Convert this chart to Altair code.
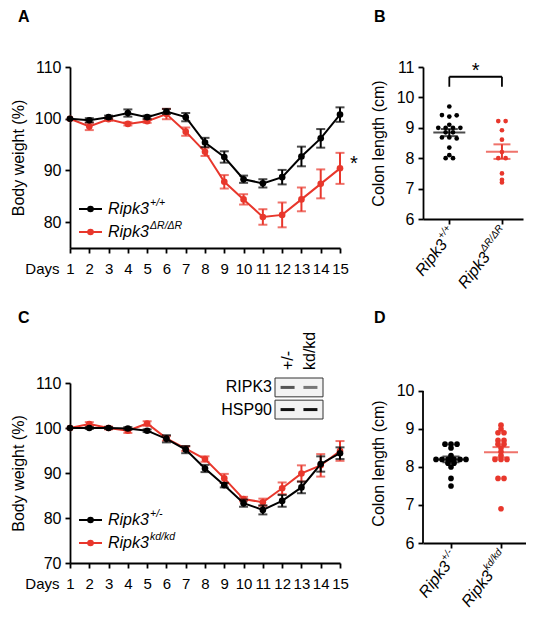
import altair as alt
import pandas as pd

FONT = "Liberation Sans"
RED = "#e8372c"
BLACK = "#000000"

# ---------------- data ----------------
days = list(range(1, 16))

# Panel A: body weight (%), mean and SEM
a_wt_mean = [100.0, 99.7, 100.3, 101.1, 100.3, 101.4, 100.3, 95.4, 92.6, 88.3, 87.5, 88.7, 92.7, 96.2, 100.8]
a_wt_sem = [0.0, 0.4, 0.3, 0.7, 0.3, 0.5, 0.8, 0.9, 1.1, 0.7, 0.8, 1.4, 1.9, 1.8, 1.4]
a_dr_mean = [100.0, 98.5, 99.9, 99.0, 99.5, 100.9, 97.5, 93.6, 87.8, 84.4, 81.0, 81.4, 84.4, 87.4, 90.4]
a_dr_sem = [0.0, 0.7, 0.3, 0.3, 0.3, 1.0, 0.8, 0.8, 1.3, 1.0, 1.5, 2.4, 2.3, 2.8, 3.0]

# Panel C: body weight (%), mean and SEM
c_het_mean = [100.0, 100.0, 100.0, 99.9, 99.4, 97.6, 95.2, 91.0, 87.3, 83.3, 81.8, 83.8, 86.8, 92.0, 94.4]
c_het_sem = [0.0, 0.2, 0.2, 0.3, 0.3, 0.8, 0.8, 0.8, 0.5, 0.8, 1.0, 1.3, 1.3, 1.7, 1.3]
c_kd_mean = [100.0, 100.9, 100.0, 99.4, 101.0, 97.7, 95.4, 93.1, 88.8, 84.2, 83.5, 86.6, 89.9, 91.7, 94.9]
c_kd_sem = [0.0, 0.4, 0.3, 0.5, 0.5, 0.5, 0.5, 0.6, 1.0, 0.5, 0.8, 1.3, 1.8, 2.5, 2.2]

# Panel B: colon length (cm)
b_wt = [9.7, 9.42, 9.37, 9.41, 9.1, 9.0, 9.0, 9.0, 9.0, 8.85, 8.85, 8.68, 8.68, 8.65, 8.35, 8.1, 8.0, 8.0]
b_dr = [9.22, 9.22, 8.92, 8.61, 8.2, 8.0, 8.0, 7.5, 7.2, 7.29]

# Panel D: colon length (cm)
d_het = [8.6, 8.6, 8.6, 8.5, 8.3, 8.2, 8.2, 8.2, 8.2, 8.2, 8.2, 8.1, 8.1, 8.0, 7.7, 7.5]
d_kd = [9.1, 9.0, 8.9, 8.9, 8.7, 8.7, 8.6, 8.6, 8.5, 8.4, 8.3, 8.2, 8.2, 8.2, 7.7, 7.7, 6.9]

# Labels
genotype_base = "Ripk3"
a_sups = ["+/+", "\u0394R/\u0394R"]
c_sups = ["+/-", "kd/kd"]
panel_letters = ["A", "B", "C", "D"]

# Blot inset (panel C)
blot_lanes = ["+/-", "kd/kd"]
blot_proteins = ["RIPK3", "HSP90"]
blot_intensity = {"RIPK3": [0.7, 0.55], "HSP90": [1.0, 1.0]}

# Significance annotations
a_star_day, a_star_val = [15], [91.2]
b_bracket = {"x0": [0], "x1": [1], "xm": [0.5], "yb": [10.68], "lo": [10.35], "s": ["*"]}


# ---------------- helpers ----------------
def x_days(field="day"):
    return alt.X(
        f"{field}:Q",
        scale=alt.Scale(domain=[1, 15], nice=False, zero=False),
        axis=alt.Axis(
            values=days, title="Days", titleX=-11, titleY=25, titleAlign="right",
            titleAngle=0, titleBaseline="alphabetic", titleFontSize=15,
            labelBaseline="alphabetic", labelPadding=20, labelOverlap=False,
            labelFlush=False, labelFontSize=15, labelBound=False,
        ),
    )


def y_weight(field, dom, vals):
    return alt.Y(
        f"{field}:Q",
        scale=alt.Scale(domain=dom, nice=False, zero=False),
        axis=alt.Axis(values=vals, title="Body weight (%)", titlePadding=8),
    )


def letter_layer(letter, dx, dy):
    return alt.Chart(pd.DataFrame({"t": [letter]})).mark_text(
        align="left", baseline="alphabetic", fontSize=16, fontWeight="bold"
    ).encode(x=alt.value(dx), y=alt.value(dy), text="t:N")


def series_layers(mean, sem, color, dom, vals):
    df = pd.DataFrame({"day": days, "mean": mean, "sem": sem})
    base = alt.Chart(df).transform_calculate(
        lo="datum.mean - datum.sem", hi="datum.mean + datum.sem"
    )
    withbar = base.transform_filter("datum.sem > 0")
    line = base.mark_line(color=color, strokeWidth=2).encode(x=x_days(), y=y_weight("mean", dom, vals))
    bar = withbar.mark_rule(color=color, strokeWidth=2).encode(
        x=x_days(), y=y_weight("lo", dom, vals), y2="hi:Q")
    cap_lo = withbar.mark_tick(color=color, orient="horizontal", size=9, thickness=2).encode(
        x=x_days(), y=y_weight("lo", dom, vals))
    cap_hi = withbar.mark_tick(color=color, orient="horizontal", size=9, thickness=2).encode(
        x=x_days(), y=y_weight("hi", dom, vals))
    pts = base.mark_circle(color=color, size=44, opacity=1).encode(
        x=x_days(), y=y_weight("mean", dom, vals))
    return [line, bar, cap_lo, cap_hi, pts]


def legend_layers(sups, colors, ys):
    layers = []
    for sup, col, yy in zip(sups, colors, ys):
        c = alt.Chart(pd.DataFrame({"lab": [genotype_base], "sup": [sup]}))
        layers += [
            c.mark_rule(color=col, strokeWidth=2).encode(
                x=alt.value(9), x2=alt.value(32), y=alt.value(yy)),
            c.mark_circle(color=col, size=44, opacity=1).encode(
                x=alt.value(20.5), y=alt.value(yy)),
            c.mark_text(align="left", baseline="middle", fontSize=16, fontStyle="italic").encode(
                x=alt.value(38), y=alt.value(yy), text="lab:N"),
            c.mark_text(align="left", baseline="middle", fontSize=10.5, fontStyle="italic").encode(
                x=alt.value(80), y=alt.value(yy - 6), text="sup:N"),
        ]
    return layers


def colon_layers(v1, v2, ydom, yvals, h, xdom, binw, step, dot, meanw, capw, sups, supw, show_domain=True):
    xs = alt.Scale(domain=xdom, nice=False, zero=False)
    xaxis = alt.Axis(values=[0, 1], labels=False, title=None, labelFlush=False)
    ys = alt.Scale(domain=ydom, nice=False, zero=False)
    yaxis = alt.Axis(values=yvals, title="Colon length (cm)", titlePadding=10, domain=show_domain)
    col = alt.Color("idx:N", scale=alt.Scale(domain=[0, 1], range=[BLACK, RED]), legend=None)

    def X(f):
        return alt.X(f"{f}:Q", scale=xs, axis=xaxis)

    def Y(f):
        return alt.Y(f"{f}:Q", scale=ys, axis=yaxis)

    df = pd.DataFrame({"v": v1 + v2, "idx": [0] * len(v1) + [1] * len(v2)})
    base = alt.Chart(df)
    pts = (
        base.transform_calculate(b=f"round(datum.v / {binw})")
        .transform_window(rank="row_number()", n="count()", groupby=["idx", "b"], frame=[None, None])
        .transform_calculate(xp=f"datum.idx + (datum.rank - (datum.n + 1) / 2) * {step}")
        .mark_circle(size=dot, opacity=1)
        .encode(x=X("xp"), y=Y("v"), color=col)
    )
    summ = base.transform_aggregate(m="mean(v)", se="stderr(v)", groupby=["idx"]).transform_calculate(
        lo="datum.m - datum.se", hi="datum.m + datum.se")
    mean_tick = summ.mark_tick(orient="horizontal", size=meanw, thickness=2).encode(
        x=X("idx"), y=Y("m"), color=col)
    err = summ.mark_rule(strokeWidth=2).encode(x=X("idx"), y=Y("lo"), y2="hi:Q", color=col)
    cap_lo = summ.mark_tick(orient="horizontal", size=capw, thickness=2).encode(
        x=X("idx"), y=Y("lo"), color=col)
    cap_hi = summ.mark_tick(orient="horizontal", size=capw, thickness=2).encode(
        x=X("idx"), y=Y("hi"), color=col)
    layers = [pts, err, cap_lo, cap_hi, mean_tick]

    # rotated category labels with superscripts
    for i, (sup, w) in enumerate(zip(sups, supw)):
        c = alt.Chart(pd.DataFrame({"i": [i], "lab": [genotype_base], "sup": [sup]}))
        layers.append(c.mark_text(angle=308, align="right", baseline="middle", fontSize=16,
                                  fontStyle="italic", dx=-w + 2.5, dy=3).encode(
            x=X("i"), y=alt.value(h + 11), text="lab:N"))
        layers.append(c.mark_text(angle=308, align="right", baseline="middle", fontSize=10,
                                  fontStyle="italic", dx=2.5, dy=-3).encode(
            x=X("i"), y=alt.value(h + 11), text="sup:N"))
    return layers, X, Y


# ---------------- panel A ----------------
a_dom, a_vals = [75, 110], [80, 90, 100, 110]
A_layers = (
    series_layers(a_dr_mean, a_dr_sem, RED, a_dom, a_vals)
    + series_layers(a_wt_mean, a_wt_sem, BLACK, a_dom, a_vals)
    + legend_layers(a_sups, [BLACK, RED], [142, 165])
    + [alt.Chart(pd.DataFrame({"day": a_star_day, "sv": a_star_val, "s": ["*"]}))
       .mark_text(fontSize=20, baseline="middle", align="center", dx=14)
       .encode(x=x_days(), y=y_weight("sv", a_dom, a_vals), text="s:N"),
       letter_layer(panel_letters[0], -52, -45.5)]
)
A = alt.layer(*A_layers).properties(width=270, height=181)

# ---------------- panel B ----------------
B_layers, BX, BY = colon_layers(b_wt, b_dr, [6, 11], [6, 7, 8, 9, 10, 11], 152, [-0.5, 1.4],
                                0.14, 0.14, 22, 32, 17, a_sups, [15, 31])
br = alt.Chart(pd.DataFrame(b_bracket))
B_layers += [
    br.mark_rule(strokeWidth=1.8, color="black").encode(x=BX("x0"), x2="x1:Q", y=BY("yb")),
    br.mark_rule(strokeWidth=1.8, color="black").encode(x=BX("x0"), y=BY("lo"), y2="yb:Q"),
    br.mark_rule(strokeWidth=1.8, color="black").encode(x=BX("x1"), y=BY("lo"), y2="yb:Q"),
    br.mark_text(fontSize=20, baseline="alphabetic", dy=0).encode(x=BX("xm"), y=BY("yb"), text="s:N"),
    letter_layer(panel_letters[1], -49, -45.5),
]
B = alt.layer(*B_layers).properties(width=100, height=152)

# ---------------- panel C ----------------
c_dom, c_vals = [70, 110], [70, 80, 90, 100, 110]
C_data = alt.layer(
    *(series_layers(c_kd_mean, c_kd_sem, RED, c_dom, c_vals)
      + series_layers(c_het_mean, c_het_sem, BLACK, c_dom, c_vals)
      + legend_layers(c_sups, [BLACK, RED], [137, 160])
      + [letter_layer(panel_letters[2], -52, -60)])
)
lane_scale = alt.Scale(domain=blot_lanes, range=[205, 253], paddingInner=0.3, paddingOuter=0.2)
prot_scale = alt.Scale(domain=blot_proteins, range=[-5, 36], paddingInner=0.15, paddingOuter=0)
blot_df = pd.DataFrame({
    "lane": blot_lanes * 2,
    "protein": [p for p in blot_proteins for _ in blot_lanes],
    "intensity": blot_intensity["RIPK3"] + blot_intensity["HSP90"],
})
prot_df = pd.DataFrame({"protein": blot_proteins})
lane_df = pd.DataFrame({"lane": blot_lanes})
C_blot = alt.layer(
    alt.Chart(prot_df).mark_rect(fill="#f3f3f3", stroke="#333333", strokeWidth=1).encode(
        y=alt.Y("protein:N", scale=prot_scale, axis=None), x=alt.value(205), x2=alt.value(253)),
    alt.Chart(blot_df).mark_tick(orient="horizontal", size=14, thickness=3, color="#111111").encode(
        x=alt.X("lane:N", scale=lane_scale, axis=None),
        y=alt.Y("protein:N", scale=prot_scale, axis=None),
        opacity=alt.Opacity("intensity:Q", scale=None)),
    alt.Chart(prot_df).mark_text(align="right", baseline="middle", fontSize=16).encode(
        y=alt.Y("protein:N", scale=prot_scale, axis=None), x=alt.value(202), text="protein:N"),
    alt.Chart(lane_df).mark_text(angle=270, align="left", baseline="middle", fontSize=16).encode(
        x=alt.X("lane:N", scale=lane_scale, axis=None), y=alt.value(-13), text="lane:N"),
)
C = alt.layer(C_data, C_blot).resolve_scale(x="independent", y="independent").properties(
    width=270, height=180)

# ---------------- panel D ----------------
D_layers, DX, DY = colon_layers(d_het, d_kd, [6, 10.21], [6, 7, 8, 9, 10], 160, [-0.56, 1.5],
                                0.1, 0.12, 32, 34, 17, c_sups, [12, 24], show_domain=False)
D_layers.append(
    alt.Chart(pd.DataFrame({"xd": [-0.56], "y0": [6], "y1": [10]}))
    .mark_rule(strokeWidth=1.8, color="black")
    .encode(x=DX("xd"), y=DY("y0"), y2="y1:Q")
)
D_layers.append(letter_layer(panel_letters[3], -49, -60))
D = alt.layer(*D_layers).properties(width=103, height=160)

chart = (
    alt.concat(A, B, C, D, columns=2, spacing={"row": 135, "column": 83}, bounds="flush")
    .properties(padding={"left": 2, "top": 0, "right": 0, "bottom": 0})
    .configure_view(stroke=None)
    .configure_axis(
        domainColor="black", domainWidth=1.8, tickColor="black", tickWidth=1.8, tickSize=5,
        labelColor="black", labelFont=FONT, labelFontSize=16, labelPadding=4,
        titleColor="black", titleFont=FONT, titleFontSize=16, titleFontWeight="normal", grid=False,
    )
    .configure_text(font=FONT, color="black")
)

chart.save("out.html", embed_options={"renderer": "svg", "actions": False})
